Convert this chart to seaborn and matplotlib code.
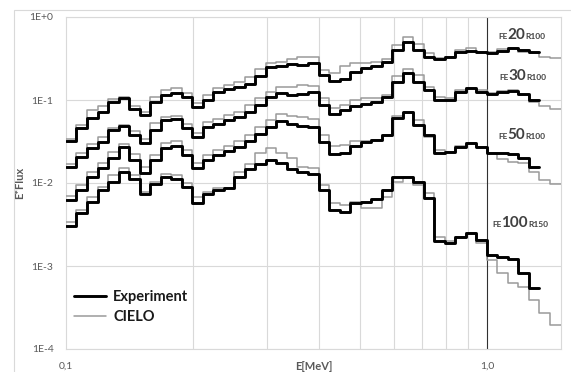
import matplotlib
matplotlib.use("Agg")
import matplotlib.pyplot as plt
from matplotlib.lines import Line2D
from matplotlib.patches import Rectangle
import seaborn as sns

# energy group edges in MeV (40 groups per decade)
EDGES = [0.1000, 0.1059, 0.1122, 0.1189, 0.1259, 0.1334, 0.1413, 0.1496,
         0.1585, 0.1679, 0.1778, 0.1884, 0.1995, 0.2113, 0.2239, 0.2371,
         0.2512, 0.2661, 0.2818, 0.2985, 0.3162, 0.3350, 0.3548, 0.3758,
         0.3981, 0.4217, 0.4467, 0.4732, 0.5012, 0.5309, 0.5623, 0.5957,
         0.6310, 0.6683, 0.7079, 0.7499, 0.7943, 0.8414, 0.8913, 0.9441,
         1.0000, 1.0593, 1.1220, 1.1885, 1.2589, 1.3335, 1.4125, 1.4962]

EXP_FE20 = [0.0321, 0.0460, 0.0607, 0.0716, 0.0946, 0.106, 0.0780, 0.0659,
            0.0946, 0.115, 0.121, 0.109, 0.0824, 0.100, 0.125, 0.136,
            0.144, 0.156, 0.195, 0.250, 0.257, 0.272, 0.264, 0.279,
            0.200, 0.169, 0.179, 0.217, 0.243, 0.257, 0.287, 0.400,
            0.500, 0.400, 0.330, 0.312, 0.330, 0.379, 0.389, 0.379,
            0.368, 0.389, 0.423, 0.400, 0.379]
CIELO_FE20 = [0.0339, 0.0500, 0.0758, 0.0847, 0.103, 0.109, 0.0847, 0.0716,
              0.109, 0.132, 0.140, 0.121, 0.0920, 0.115, 0.140, 0.152,
              0.165, 0.189, 0.236, 0.279, 0.287, 0.312, 0.330, 0.330,
              0.230, 0.211, 0.257, 0.279, 0.279, 0.287, 0.312, 0.460,
              0.574, 0.473, 0.368, 0.321, 0.330, 0.400, 0.423, 0.379,
              0.379, 0.411, 0.423, 0.379, 0.368, 0.330, 0.321]

EXP_FE30 = [0.0156, 0.0206, 0.0264, 0.0312, 0.0435, 0.0486, 0.0379, 0.0303,
            0.0435, 0.0574, 0.0590, 0.0460, 0.0358, 0.0473, 0.0514, 0.0574,
            0.0624, 0.0716, 0.0871, 0.109, 0.121, 0.115, 0.118, 0.125,
            0.0871, 0.0678, 0.0758, 0.0847, 0.0895, 0.0946, 0.109, 0.165,
            0.211, 0.165, 0.132, 0.100, 0.100, 0.125, 0.140, 0.125,
            0.118, 0.125, 0.128, 0.118, 0.100]
CIELO_FE30 = [0.0169, 0.0230, 0.0295, 0.0358, 0.0460, 0.0500, 0.0423, 0.0339,
              0.0528, 0.0624, 0.0642, 0.0514, 0.0400, 0.0543, 0.0590, 0.0659,
              0.0716, 0.0871, 0.106, 0.125, 0.144, 0.144, 0.152, 0.148,
              0.106, 0.0801, 0.0871, 0.100, 0.106, 0.106, 0.115, 0.195,
              0.236, 0.200, 0.144, 0.109, 0.106, 0.132, 0.140, 0.132,
              0.121, 0.128, 0.132, 0.115, 0.0946, 0.0847, 0.0780]

EXP_FE50 = [0.00624, 0.00824, 0.0118, 0.0152, 0.0200, 0.0271, 0.0189, 0.0132,
            0.0189, 0.0264, 0.0279, 0.0217, 0.0152, 0.0189, 0.0217, 0.0243,
            0.0271, 0.0321, 0.0389, 0.0473, 0.0558, 0.0514, 0.0486, 0.0473,
            0.0312, 0.0224, 0.0230, 0.0279, 0.0312, 0.0330, 0.0379, 0.0607,
            0.0716, 0.0500, 0.0379, 0.0230, 0.0236, 0.0271, 0.0303, 0.0271,
            0.0230, 0.0230, 0.0224, 0.0200, 0.0156]
CIELO_FE50 = [0.00697, 0.00946, 0.0136, 0.0174, 0.0236, 0.0295, 0.0224, 0.0156,
              0.0217, 0.0303, 0.0321, 0.0250, 0.0174, 0.0217, 0.0250, 0.0279,
              0.0321, 0.0379, 0.0473, 0.0574, 0.0678, 0.0642, 0.0624, 0.0590,
              0.0379, 0.0279, 0.0287, 0.0321, 0.0321, 0.0330, 0.0379, 0.0642,
              0.0697, 0.0574, 0.0358, 0.0250, 0.0236, 0.0279, 0.0303, 0.0271,
              0.0230, 0.0195, 0.0179, 0.0174, 0.0136, 0.0109, 0.00972]

EXP_FE100 = [0.00303, 0.00435, 0.00590, 0.00824, 0.0103, 0.0136, 0.0112, 0.00737,
             0.00972, 0.0118, 0.0112, 0.00895, 0.00574, 0.00737, 0.00824, 0.00871,
             0.0118, 0.0148, 0.0169, 0.0189, 0.0174, 0.0148, 0.0136, 0.0128,
             0.00824, 0.00473, 0.00448, 0.00574, 0.00590, 0.00642, 0.00824, 0.0118,
             0.0118, 0.0103, 0.00659, 0.00200, 0.00189, 0.00224, 0.00250, 0.00206,
             0.00136, 0.00128, 0.00121, 0.000824, 0.000543]
CIELO_FE100 = [0.00339, 0.00473, 0.00678, 0.00895, 0.0125, 0.0152, 0.0125, 0.00780,
               0.0103, 0.0128, 0.0125, 0.0100, 0.00678, 0.00780, 0.00871, 0.00871,
               0.0136, 0.0169, 0.0230, 0.0264, 0.0230, 0.0200, 0.0156, 0.0152,
               0.00946, 0.00574, 0.00543, 0.00590, 0.00500, 0.00500, 0.00678, 0.0103,
               0.0118, 0.00946, 0.00759, 0.00224, 0.00200, 0.00224, 0.00250, 0.00189,
               0.00118, 0.000824, 0.000624, 0.000558, 0.000389, 0.000272, 0.000195]

EXPERIMENT = [EXP_FE20, EXP_FE30, EXP_FE50, EXP_FE100]
CIELO = [CIELO_FE20, CIELO_FE30, CIELO_FE50, CIELO_FE100]

# curve labels: small prefix, big number, small suffix
LABELS = [("FE", "20", "R100"), ("FE", "30", "R100"),
          ("FE", "50", "R100"), ("FE", "100", "R150")]
LABEL_POS = [(498, 39), (499, 80), (498, 139), (492, 227)]  # pixels

Y_TICKS = [1e-4, 1e-3, 1e-2, 1e-1, 1e0]
Y_TICK_LABELS = ["1E-4", "1E-3", "1E-2", "1E-1", "1E+0"]
X_TICKS = [0.1, 1.0]
X_TICK_LABELS = ["0,1", "1,0"]

W, H = 571, 372
GRID = "#d9d9d9"
TXT = "#595959"

sns.set_style("white")
plt.rcParams["font.family"] = ["Lato", "DejaVu Sans"]

fig = plt.figure(figsize=(W / 100, H / 100), dpi=100)
ax = fig.add_axes([66 / W, 1 - 349 / H, 495 / W, 332 / H])

# outer chart border
fig.patches.append(Rectangle((14 / W, -0.1), 1.2, 1 - 10 / H + 0.1,
                             transform=fig.transFigure, fill=False,
                             edgecolor=GRID, lw=0.8))


def step_xy(vals):
    return EDGES[:len(vals) + 1], list(vals) + [vals[-1]]


for vals in CIELO:
    x, y = step_xy(vals)
    sns.lineplot(x=x, y=y, drawstyle="steps-post", color="#9a9a9a", lw=1.1,
                 legend=False, ax=ax, zorder=3)
for vals in EXPERIMENT:
    x, y = step_xy(vals)
    sns.lineplot(x=x, y=y, drawstyle="steps-post", color="black", lw=2.1,
                 legend=False, ax=ax, zorder=4)

ax.set_xscale("log")
ax.set_yscale("log")
ax.set_xlim(0.1, 1.5)
ax.set_ylim(1e-4, 1e0)

ax.set_yticks(Y_TICKS)
ax.set_yticklabels(Y_TICK_LABELS)
ax.set_xticks(X_TICKS)
ax.set_xticklabels(X_TICK_LABELS)
ax.set_xticks([0.2, 0.3, 0.4, 0.5, 0.6, 0.7, 0.8, 0.9], minor=True)
ax.xaxis.set_minor_formatter(matplotlib.ticker.NullFormatter())
ax.yaxis.set_minor_locator(matplotlib.ticker.NullLocator())
ax.tick_params(axis="both", which="both", length=0, labelsize=7.5, colors=TXT)
ax.tick_params(axis="x", pad=9)
ax.tick_params(axis="y", pad=9)

ax.grid(True, axis="y", which="major", color=GRID, lw=0.8)
ax.grid(True, axis="x", which="minor", color=GRID, lw=0.8)
ax.axvline(1.0, color="#303030", lw=0.8, zorder=2)
for s in ax.spines.values():
    s.set_color(GRID)
    s.set_linewidth(0.8)

ax.set_xlabel("E[MeV]", fontsize=8, color=TXT, fontweight="bold")
ax.xaxis.set_label_coords(0.5, -0.037)
ax.set_ylabel("E*Flux", fontsize=8, color=TXT, fontweight="bold")
ax.yaxis.set_label_coords(-0.083, 0.5)

handles = [Line2D([], [], color="black", lw=2.1),
           Line2D([], [], color="#9a9a9a", lw=1.1)]
leg = ax.legend(handles, ["Experiment", "CIELO"], loc="lower left",
                bbox_to_anchor=(-0.005, 0.045), frameon=False, borderaxespad=0.3,
                handlelength=2.2, handletextpad=0.5, labelspacing=0.4,
                prop={"size": 10.5, "weight": "bold"})
for t in leg.get_texts():
    t.set_color("#1a1a1a")

for (pre, num, suf), (px, py) in zip(LABELS, LABEL_POS):
    t1 = fig.text(px / W, 1 - py / H, pre, fontsize=6, fontweight="bold",
                  color="#404040", va="baseline")
    fig.canvas.draw()
    bb = t1.get_window_extent()
    t2 = fig.text(bb.x1 / W, 1 - py / H, num, fontsize=11, fontweight="bold",
                  color="#404040", va="baseline")
    fig.canvas.draw()
    bb = t2.get_window_extent()
    fig.text(bb.x1 / W, 1 - py / H, suf, fontsize=6, fontweight="bold",
             color="#404040", va="baseline")

fig.savefig("out.png", dpi=100)
